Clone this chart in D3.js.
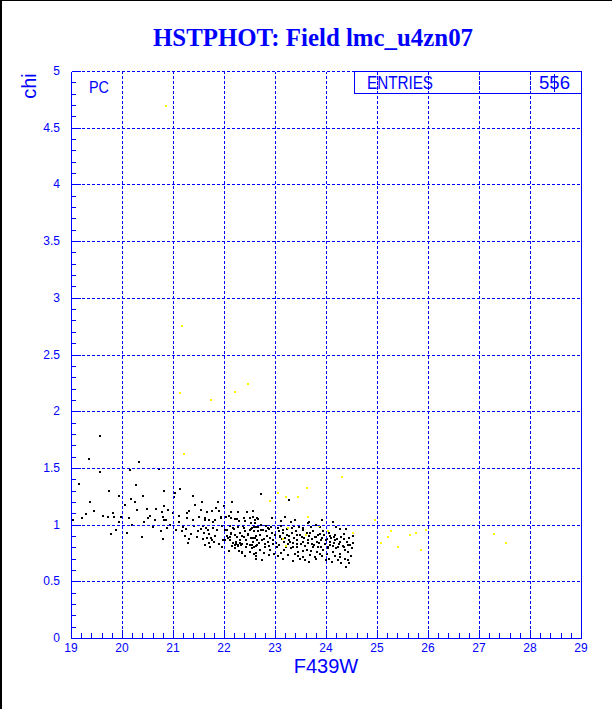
<!DOCTYPE html>
<html><head><meta charset="utf-8">
<script src="https://cdn.jsdelivr.net/npm/d3@7"></script>
<style>html,body{margin:0;padding:0;background:#fff;}svg{display:block;}</style>
</head><body>
<script>
const titleText = "HSTPHOT: Field lmc_u4zn07";
const xLabel = "F439W";
const yLabel = "chi";
const xTickValues = [19,20,21,22,23,24,25,26,27,28,29];
const xTickLabels = ["19","20","21","22","23","24","25","26","27","28","29"];
const yTickValues = [0,0.5,1,1.5,2,2.5,3,3.5,4,4.5,5];
const yTickLabels = ["0","0.5","1","1.5","2","2.5","3","3.5","4","4.5","5"];
const statsLabel = "ENTRIES";
const statsValue = "556";
const panelLabel = "PC";

// black points: [F439W, chi]
const blackPts = [
[19.56,1.78],[19.35,1.58],[20.33,1.55],[20.16,1.48],[20.72,1.49],[19.56,1.46],[19.15,1.36],[20.27,1.35],
[19.74,1.30],[20.83,1.30],[21.03,1.28],[21.13,1.31],[20.41,1.25],[21.40,1.25],[21.02,1.24],[19.94,1.25],
[20.17,1.23],[19.37,1.20],[20.25,1.20],[21.56,1.20],[21.88,1.20],[22.15,1.20],[21.43,1.17],[20.05,1.17],
[20.30,1.13],[20.49,1.14],[20.67,1.14],[20.90,1.13],[20.82,1.16],[20.79,1.11],[19.83,1.10],[19.29,1.09],
[21.84,1.15],[21.54,1.13],[21.67,1.11],[21.77,1.12],[21.91,1.12],[22.00,1.16],[22.14,1.11],[22.45,1.11],
[22.57,1.12],[21.32,1.12],[21.28,1.10],[21.11,1.08],[19.21,1.06],[19.73,1.07],[19.85,1.07],[19.99,1.07],
[20.13,1.06],[20.50,1.06],[20.80,1.07],[20.64,1.04],[20.82,1.04],[20.86,1.04],[21.28,1.06],[21.39,1.04],
[21.51,1.07],[21.62,1.06],[21.62,1.04],[21.71,1.04],[21.82,1.04],[21.94,1.06],[22.03,1.07],[22.09,1.08],
[22.22,1.05],[22.30,1.03],[22.41,1.03],[22.51,1.06],[22.65,1.06],[19.03,1.04],[19.79,0.92],[20.40,0.89],
[20.76,0.94],[20.80,0.87],[21.05,0.95],[21.17,0.94],[21.26,0.96],[21.32,0.87],[21.29,0.84],[21.49,0.94],
[21.58,0.99],[21.64,0.97],[21.69,0.95],[21.78,0.97],[21.86,0.95],[21.58,0.87],[21.62,0.82],[21.70,0.84],
[21.75,0.88],[21.81,0.85],[21.72,0.80],[21.97,0.99],[22.02,0.95],[22.01,0.86],[22.11,0.89],[22.14,0.92],
[22.18,0.97],[22.23,0.83],[22.27,0.82],[22.31,0.84],[22.35,0.83],[22.35,0.76],[22.40,0.89],[22.47,0.91],
[22.53,0.96],[22.59,0.98],[22.63,0.98],[22.66,0.98],[22.57,0.88],[22.61,0.88],[22.51,0.82],[22.55,0.82],
[22.62,0.81],[22.64,0.82],[22.62,0.75],[22.62,0.72],
[22.73,1.27],[23.28,1.22],[22.27,1.11],[22.56,1.12],[22.40,1.06],[22.57,1.07],[22.67,1.05],[22.14,1.06],
[21.95,1.07],[22.29,1.03],[22.42,1.03],[22.38,0.99],[22.52,1.01],[22.61,1.01],[22.72,1.00],[22.83,0.99],
[22.93,0.98],[22.88,0.96],[22.82,0.94],[22.73,0.95],[22.67,0.94],[22.58,0.94],[22.50,0.95],[22.42,0.94],
[22.32,0.93],[22.22,0.91],[22.14,0.93],[22.05,0.90],[21.99,0.86],[22.11,0.86],[22.23,0.85],[22.32,0.86],
[22.44,0.86],[22.56,0.85],[22.65,0.86],[22.78,0.87],[22.86,0.85],[22.96,0.83],[23.07,0.94],[23.11,0.99],
[23.20,1.07],[23.31,1.02],[23.38,0.99],[23.47,0.98],[23.55,0.97],[23.64,1.01],[23.71,0.98],[23.81,1.00],
[23.88,0.98],[23.16,0.95],[23.24,0.91],[23.33,0.93],[23.43,0.91],[23.52,0.89],[23.60,0.91],[23.69,0.93],
[23.78,0.89],[23.88,0.92],[23.97,0.91],[24.07,0.90],[24.15,0.89],[24.27,0.96],[24.14,1.02],[23.09,0.89],
[23.17,0.85],[23.27,0.86],[23.35,0.84],[23.44,0.83],[23.55,0.85],[23.65,0.86],[23.73,0.83],[23.82,0.85],
[23.91,0.86],[24.00,0.86],[24.07,0.85],[24.17,0.86],[24.27,0.85],[24.35,0.87],[24.46,0.88],[24.52,0.90],
[24.53,0.84],[24.43,0.82],[24.35,0.80],[24.24,0.80],[24.14,0.81],[24.04,0.80],[23.95,0.78],[23.85,0.80],
[23.75,0.80],[23.63,0.78],[23.54,0.77],[23.44,0.80],[23.32,0.79],[23.22,0.80],[23.12,0.75],[23.03,0.80],
[22.91,0.78],[22.80,0.80],[22.70,0.78],[22.63,0.75],[22.54,0.79],[22.44,0.80],[22.36,0.75],[22.27,0.81],
[22.21,0.82],[22.63,0.70],[22.75,0.69],[22.99,0.74],[23.49,0.70],[23.67,0.67],[23.81,0.70],[24.00,0.69],
[24.17,0.72],[24.27,0.71],[24.40,0.63],[24.44,0.69],[24.29,0.66],[23.55,0.71],[23.40,0.74],[23.88,0.74],
[24.01,0.74],
[22.05,0.95],[22.08,0.88],[22.12,0.99],[22.18,0.84],[22.20,0.96],[22.25,0.89],[22.28,0.98],[22.33,0.82],
[22.36,0.90],[22.40,0.97],[22.46,0.83],[22.48,0.92],[22.52,0.88],[22.55,0.97],[22.59,0.80],[22.62,0.90],
[22.66,0.98],[22.69,0.84],[22.71,0.91],[22.75,0.86],[22.77,0.95],[22.80,0.83],[22.84,0.90],[22.86,0.97],
[22.89,0.81],[22.91,0.88],[22.94,0.93],[22.97,0.86],[23.00,0.91],[23.02,0.84],[23.05,0.97],[23.08,0.82],
[23.10,0.90],[23.13,0.87],[23.15,0.93],[23.18,0.78],[23.20,0.88],[23.23,0.96],[23.25,0.83],[23.28,0.90],
[23.30,0.85],[23.33,0.97],[23.36,0.80],[23.38,0.88],[23.41,0.94],[23.44,0.86],[23.46,0.76],[23.49,0.91],
[23.51,0.83],[23.54,0.95],[23.57,0.88],[23.59,0.81],[23.62,0.93],[23.65,0.84],[23.67,0.90],[23.70,0.77],
[23.72,0.87],[23.75,0.94],[23.77,0.82],[23.80,0.89],[23.83,0.76],[23.85,0.91],[23.87,0.84],[23.90,0.80],
[23.93,0.88],[23.95,0.94],[23.98,0.83],[24.01,0.87],[24.03,0.79],[24.05,0.93],[24.08,0.82],[24.10,0.88],
[24.13,0.76],[24.15,0.84],[24.18,0.91],[24.20,0.79],[24.22,0.87],[24.25,0.83],[24.28,0.74],[24.30,0.89],
[24.33,0.81],[24.36,0.92],[24.38,0.78],[24.41,0.85],[24.44,0.76],[24.47,0.82],[24.49,0.72],[24.51,0.79],
[23.06,0.72],[23.16,0.70],[23.26,0.73],[23.35,0.68],[23.45,0.72],[23.58,0.69],[23.68,0.73],[23.78,0.71],
[23.92,0.72],[24.06,0.70],[24.12,0.67],[24.23,0.69],[24.37,0.70],[24.45,0.66],[22.88,0.73],[22.79,0.75],
[22.58,0.74],[22.50,0.76],[22.42,0.72],[22.30,0.77],[22.22,0.79],[22.15,0.81],[22.09,0.77],[21.97,0.80],
[21.90,0.83],[21.83,0.90],[21.77,0.86],[21.70,0.92],[21.66,0.88],[21.60,0.93],[21.55,0.96],[21.47,0.89],
[21.42,0.99],[21.36,0.92],[21.24,0.90],[21.20,0.98],[21.12,1.02],[20.95,1.00],[20.88,0.97],[20.60,0.98],
[20.44,1.02],[20.20,1.00],[19.95,1.02],[19.62,1.08],[19.45,1.12],[19.88,0.95],[20.10,0.93],[20.55,1.08],
[21.00,1.10],[21.78,1.02],[22.25,1.05],[22.60,1.04],[22.95,1.06],[23.12,1.03],[23.40,1.04],[23.66,1.02],
[23.92,1.04],[24.19,0.98],[24.40,0.96]
];

// yellow points: [F439W, chi]
const yellowPts = [
[20.87,4.69],[21.17,2.75],[21.14,2.16],[22.48,2.24],[21.75,2.10],[22.22,2.17],[21.21,1.62],
[24.32,1.42],[23.63,1.32],[23.06,1.28],[22.91,1.21],[23.22,1.24],[23.46,1.24],[23.64,1.07],
[23.26,0.97],[23.61,0.91],[23.21,0.81],[23.16,0.87],[24.03,0.94],[24.52,0.93],[23.86,0.99],
[24.97,1.04],[25.07,0.84],[25.21,0.89],[25.27,0.94],[25.42,0.80],[25.65,0.91],[25.76,0.93],
[25.87,0.78],[25.97,0.95],[27.30,0.92],[27.52,0.84]
];

const W = 612, H = 709;
const blue = "#0000ff";
const svg = d3.select("body").append("svg").attr("width", W).attr("height", H);
svg.append("rect").attr("width", W).attr("height", H).attr("fill", "#fff");

const x = d3.scaleLinear().domain([19, 29]).range([71, 581]);
const y = d3.scaleLinear().domain([0, 5]).range([638, 71]);
const px = v => Math.round(x(v)) + 0.5;
const py = v => Math.round(y(v)) + 0.5;

const g = svg.append("g").attr("shape-rendering", "crispEdges");

// title
svg.append("text").attr("x", 313).attr("y", 46).attr("text-anchor", "middle")
  .attr("font-family", "Liberation Serif, Times New Roman, serif").attr("font-weight", "bold")
  .attr("font-size", 26).attr("fill", blue).attr("textLength", 320).attr("lengthAdjust", "spacingAndGlyphs")
  .text(titleText);

// points
g.append("g").selectAll("rect").data(blackPts).join("rect")
  .attr("x", d => Math.round(x(d[0])) - 1).attr("y", d => Math.round(y(d[1])) - 1)
  .attr("width", 2).attr("height", 2).attr("fill", "#000");
g.append("g").selectAll("rect").data(yellowPts).join("rect")
  .attr("x", d => Math.round(x(d[0])) - 1).attr("y", d => Math.round(y(d[1])) - 1)
  .attr("width", 2).attr("height", 2).attr("fill", "#ffff00");

// grid
const grid = g.append("g").attr("stroke", blue).attr("stroke-width", 1).attr("stroke-dasharray", "3,2").attr("fill", "none");
grid.selectAll("line.v").data(xTickValues.filter(v => v > 19 && v < 29)).join("line").attr("class", "v")
  .attr("x1", d => px(d)).attr("x2", d => px(d)).attr("y1", py(0)).attr("y2", py(5));
grid.selectAll("line.h").data(yTickValues.filter(v => v > 0)).join("line").attr("class", "h")
  .attr("x1", px(19)).attr("x2", px(29)).attr("y1", d => py(d)).attr("y2", d => py(d));

// frame: left, bottom, right solid
const fr = g.append("g").attr("stroke", blue).attr("stroke-width", 1).attr("fill", "none");
fr.append("line").attr("x1", px(19)).attr("x2", px(19)).attr("y1", py(5)).attr("y2", py(0));
fr.append("line").attr("x1", px(19)).attr("x2", px(29)).attr("y1", py(0)).attr("y2", py(0));
fr.append("line").attr("x1", px(29)).attr("x2", px(29)).attr("y1", py(5)).attr("y2", py(0));

// ticks
const yMinor = d3.range(0, 51).map(i => i / 10).filter(v => Math.abs(v * 2 - Math.round(v * 2)) > 1e-6);
fr.selectAll("line.ym").data(yMinor).join("line").attr("class", "ym")
  .attr("x1", px(19)).attr("x2", px(19) + 4).attr("y1", d => py(d)).attr("y2", d => py(d));
fr.selectAll("line.yM").data(yTickValues).join("line").attr("class", "yM")
  .attr("x1", px(19)).attr("x2", px(19) + 9).attr("y1", d => py(d)).attr("y2", d => py(d));
const xMinor = d3.range(0, 51).map(i => 19 + i / 5).filter(v => Math.abs(v - Math.round(v)) > 1e-6);
fr.selectAll("line.xm").data(xMinor).join("line").attr("class", "xm")
  .attr("x1", d => px(d)).attr("x2", d => px(d)).attr("y1", py(0)).attr("y2", py(0) - 6);
fr.selectAll("line.xM").data(xTickValues).join("line").attr("class", "xM")
  .attr("x1", d => px(d)).attr("x2", d => px(d)).attr("y1", py(0)).attr("y2", py(0) - 9);

// tick labels
const lab = svg.append("g").attr("font-family", "Liberation Sans, Arial, sans-serif").attr("fill", blue);
lab.selectAll("text.xl").data(xTickValues).join("text").attr("class", "xl")
  .attr("x", d => x(d)).attr("y", 652).attr("text-anchor", "middle").attr("font-size", 12)
  .text((d, i) => xTickLabels[i]);
lab.selectAll("text.yl").data(yTickValues).join("text").attr("class", "yl")
  .attr("x", 60).attr("y", d => y(d) + 4).attr("text-anchor", "end").attr("font-size", 12)
  .text((d, i) => yTickLabels[i]);

// axis titles
lab.append("text").attr("x", 326).attr("y", 673).attr("text-anchor", "middle").attr("font-size", 20).text(xLabel);
lab.append("text").attr("transform", "translate(36,86) rotate(-90)").attr("text-anchor", "middle").attr("font-size", 20).text(yLabel);

// panel label
lab.append("text").attr("x", 89).attr("y", 93).attr("font-size", 17).attr("textLength", 20).attr("lengthAdjust", "spacingAndGlyphs").text(panelLabel);

// stats box
g.append("rect").attr("x", 354.5).attr("y", 71.5).attr("width", 227).attr("height", 22)
  .attr("fill", "none").attr("stroke", blue);
lab.append("text").attr("x", 367).attr("y", 89).attr("font-size", 19).attr("textLength", 66).attr("lengthAdjust", "spacingAndGlyphs").text(statsLabel);
lab.append("text").attr("x", 570).attr("y", 89).attr("text-anchor", "end").attr("font-size", 19).attr("textLength", 31).attr("lengthAdjust", "spacingAndGlyphs").text(statsValue);
// overstrike seen on the middle digit of the entries value
g.append("line").attr("x1", 554.5).attr("x2", 554.5).attr("y1", 74).attr("y2", 92).attr("stroke", blue);

// grid lines that cross the stats box drawn above the text
const gridTop = g.append("g").attr("stroke", blue).attr("stroke-dasharray", "3,2");
gridTop.selectAll("line").data(xTickValues.filter(v => x(v) > 355 && v < 29)).join("line")
  .attr("x1", d => px(d)).attr("x2", d => px(d)).attr("y1", py(5)).attr("y2", 94);

// window frame
svg.append("line").attr("x1", 1).attr("x2", 1).attr("y1", 0).attr("y2", H).attr("stroke", "#000").attr("stroke-width", 2);
svg.append("line").attr("x1", 0).attr("x2", W).attr("y1", 0.5).attr("y2", 0.5).attr("stroke", "#000").attr("stroke-width", 1);
</script>
</body></html>
